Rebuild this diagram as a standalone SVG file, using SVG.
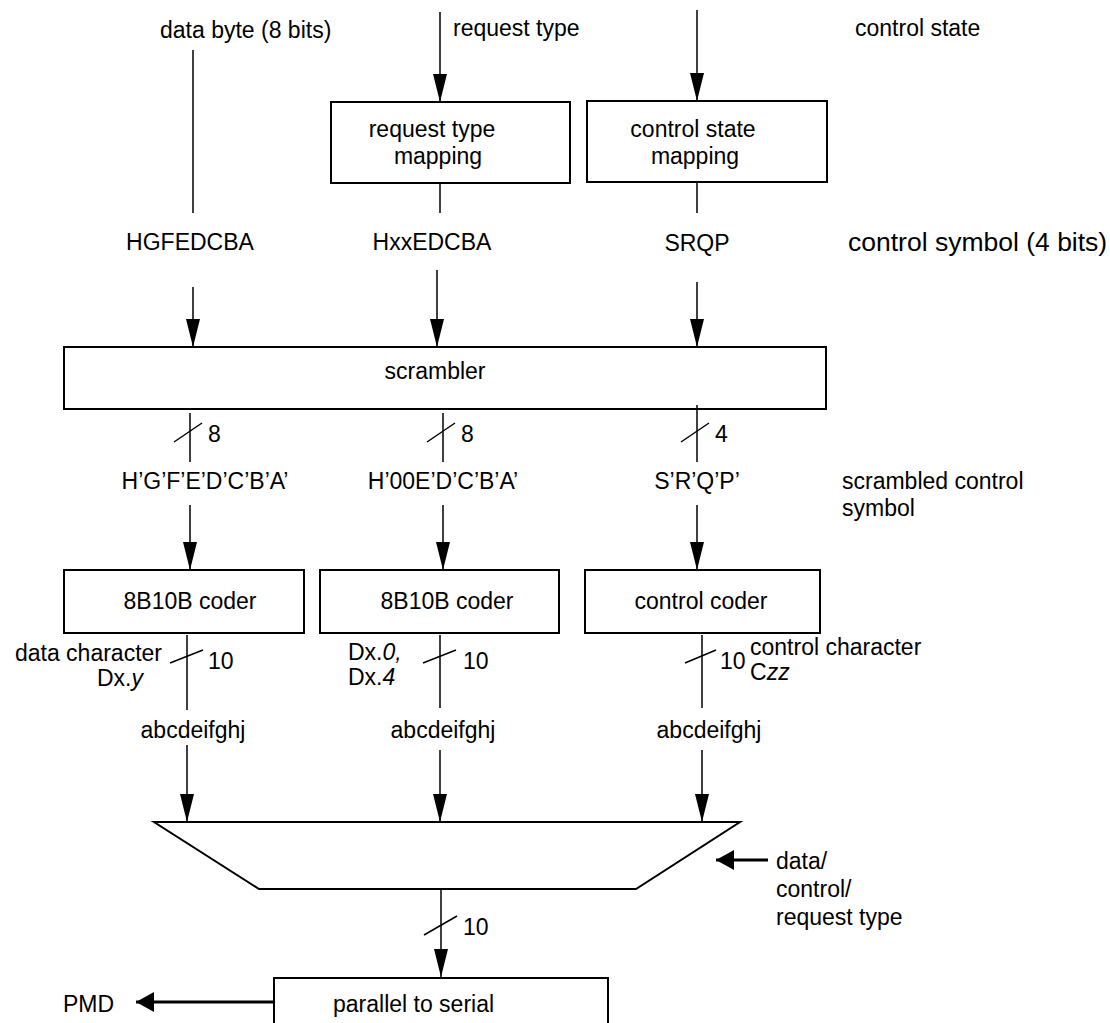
<svg xmlns="http://www.w3.org/2000/svg" width="1110" height="1023" viewBox="0 0 1110 1023">
<style>
text{font-family:"Liberation Sans",Arial,sans-serif;font-size:23px;fill:#000}
.big{font-size:26.5px}
.box{fill:#fff;stroke:#000;stroke-width:2}
.ln{stroke:#000;stroke-width:1.5;fill:none}
.thick{stroke:#000;stroke-width:3;fill:none}
.m{text-anchor:middle}
</style>
<defs>
<marker id="ah" markerUnits="userSpaceOnUse" markerWidth="30" markerHeight="14" refX="32" refY="8" orient="auto" viewBox="0 0 32 16">
<path d="M0,0 L32,8 L0,16 Z" fill="#000"/>
</marker>
<marker id="ahs" markerUnits="userSpaceOnUse" markerWidth="18" markerHeight="20" refX="18" refY="10" orient="auto" viewBox="0 0 18 20">
<path d="M0,0 L18,10 L0,20 Z" fill="#000"/>
</marker>
</defs>
<rect width="1110" height="1023" fill="#fff"/>

<g id="inputs">
<text x="160" y="38">data byte (8 bits)</text>
<text x="453" y="36">request type</text>
<text x="855" y="36">control state</text>
</g>

<g id="request-type-mapping">
<rect class="box" x="331" y="102" width="239" height="81"/>
<text class="m" x="432" y="137">request type</text>
<text class="m" x="438" y="164">mapping</text>
</g>
<g id="control-state-mapping">
<rect class="box" x="587" y="101" width="240" height="81"/>
<text class="m" x="693" y="137">control state</text>
<text class="m" x="695" y="164">mapping</text>
</g>

<g id="symbol-labels">
<text class="m" x="190" y="250">HGFEDCBA</text>
<text class="m" x="432" y="250">HxxEDCBA</text>
<text class="m" x="697" y="251">SRQP</text>
<text class="big" x="848" y="251">control symbol (4 bits)</text>
</g>

<g id="scrambler">
<rect class="box" x="64" y="347" width="762" height="62"/>
<text class="m" x="435" y="379">scrambler</text>
</g>

<g id="scrambled-labels">
<text class="m" x="205" y="489">H’G’F’E’D’C’B’A’</text>
<text class="m" x="443" y="489">H’00E’D’C’B’A’</text>
<text class="m" x="697" y="489">S’R’Q’P’</text>
<text x="842" y="489">scrambled control</text>
<text x="842" y="516">symbol</text>
</g>

<g id="coder1">
<rect class="box" x="64" y="570" width="240" height="63"/>
<text class="m" x="190" y="609">8B10B coder</text>
</g>
<g id="coder2">
<rect class="box" x="320" y="570" width="239" height="63"/>
<text class="m" x="447" y="609">8B10B coder</text>
</g>
<g id="control-coder">
<rect class="box" x="585" y="570" width="235" height="63"/>
<text class="m" x="701" y="609">control coder</text>
</g>

<g id="coder-labels">
<text x="162" y="661" text-anchor="end">data character</text>
<text x="97" y="686">Dx.<tspan font-style="italic">y</tspan></text>
<text x="348" y="660">Dx.<tspan font-style="italic">0,</tspan></text>
<text x="348" y="685">Dx.<tspan font-style="italic">4</tspan></text>
<text x="750" y="655">control character</text>
<text x="750" y="680">C<tspan font-style="italic">zz</tspan></text>
<text class="m" x="193" y="738">abcdeifghj</text>
<text class="m" x="443" y="738">abcdeifghj</text>
<text class="m" x="709" y="738">abcdeifghj</text>
</g>

<g id="mux">
<path class="box" d="M154,822 L740,822 L636,889 L259,889 Z"/>
<text x="776" y="869">data/</text>
<text x="776" y="897">control/</text>
<text x="776" y="925">request type</text>
</g>

<g id="parallel-to-serial">
<rect class="box" x="274" y="978" width="334" height="60"/>
<text x="333" y="1012">parallel to serial</text>
<text x="63" y="1012">PMD</text>
</g>

<g id="connectors">
<line class="ln" x1="193" y1="50" x2="193" y2="213"/>
<line class="ln" x1="440" y1="12" x2="440" y2="102" marker-end="url(#ah)"/>
<line class="ln" x1="697" y1="10" x2="697" y2="101" marker-end="url(#ah)"/>
<line class="ln" x1="440" y1="183" x2="440" y2="213"/>
<line class="ln" x1="697" y1="182" x2="697" y2="213"/>

<line class="ln" x1="193" y1="287" x2="193" y2="347" marker-end="url(#ah)"/>
<line class="ln" x1="437" y1="270" x2="437" y2="347" marker-end="url(#ah)"/>
<line class="ln" x1="697" y1="282" x2="697" y2="347" marker-end="url(#ah)"/>

<line class="ln" x1="190" y1="413" x2="190" y2="462"/>
<line class="ln" x1="443" y1="413" x2="443" y2="462"/>
<line class="ln" x1="697" y1="405" x2="697" y2="462"/>
<line class="ln" x1="174" y1="442" x2="202" y2="423"/>
<line class="ln" x1="427" y1="442" x2="455" y2="423"/>
<line class="ln" x1="681" y1="442" x2="709" y2="423"/>
<text x="208" y="442">8</text>
<text x="461" y="442">8</text>
<text x="715" y="442">4</text>

<line class="ln" x1="190" y1="505" x2="190" y2="570" marker-end="url(#ah)"/>
<line class="ln" x1="443" y1="505" x2="443" y2="570" marker-end="url(#ah)"/>
<line class="ln" x1="697" y1="505" x2="697" y2="570" marker-end="url(#ah)"/>

<line class="ln" x1="187" y1="635" x2="187" y2="710"/>
<line class="ln" x1="440" y1="635" x2="440" y2="708"/>
<line class="ln" x1="702" y1="635" x2="702" y2="708"/>
<line class="ln" x1="170" y1="663" x2="203" y2="650"/>
<line class="ln" x1="423" y1="663" x2="456" y2="650"/>
<line class="ln" x1="685" y1="663" x2="716" y2="650"/>
<text x="208" y="669">10</text>
<text x="463" y="669">10</text>
<text x="720" y="669">10</text>

<line class="ln" x1="187" y1="745" x2="187" y2="822" marker-end="url(#ah)"/>
<line class="ln" x1="440" y1="750" x2="440" y2="822" marker-end="url(#ah)"/>
<line class="ln" x1="702" y1="750" x2="702" y2="822" marker-end="url(#ah)"/>

<line class="thick" x1="768" y1="860" x2="716" y2="860" marker-end="url(#ahs)"/>

<line class="ln" x1="441" y1="889" x2="441" y2="977" marker-end="url(#ah)"/>
<line class="ln" x1="424" y1="935" x2="457" y2="916"/>
<text x="463" y="935">10</text>

<line class="thick" x1="274" y1="1002" x2="136" y2="1002" marker-end="url(#ahs)"/>
</g>
</svg>
